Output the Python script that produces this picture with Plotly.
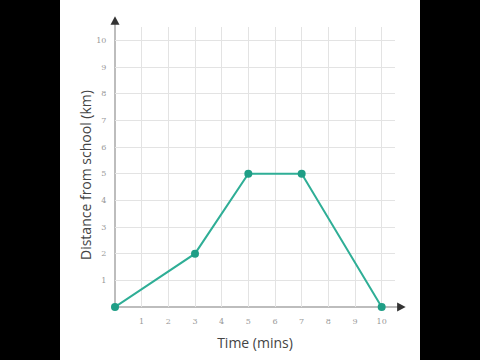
import plotly.graph_objects as go

time_mins = [0, 3, 5, 7, 10]
distance_km = [0, 2, 5, 5, 0]
tick_vals = [1, 2, 3, 4, 5, 6, 7, 8, 9, 10]
tick_text = [str(v) for v in tick_vals]

X_MAX = 10.5  # axis range upper bound
PW = 280.0    # plot width/height in px

fig = go.Figure()
fig.add_trace(go.Scatter(
    x=time_mins, y=distance_km, mode="lines+markers",
    line=dict(color="#2fae96", width=2),
    marker=dict(color="#1f9e86", size=8),
    cliponaxis=False, showlegend=False,
))

axis_common = dict(
    showgrid=True, gridcolor="#e3e3e3", gridwidth=1,
    zeroline=False, showline=False,
    tickvals=tick_vals, ticktext=tick_text,
    tickfont=dict(family="DejaVu Serif", size=8, color="#999999"),
    ticks="outside", ticklen=6, tickcolor="rgba(0,0,0,0)", fixedrange=True,
)
fig.update_xaxes(range=[0, X_MAX], title=dict(text="Time (mins)", standoff=13,
                 font=dict(family="Open Sans", size=14, color="#444")), **axis_common)
fig.update_yaxes(range=[0, X_MAX], **axis_common)

fig.add_annotation(text="Distance from school (km)", textangle=-90,
                   xref="paper", yref="paper", x=(85 - 115) / PW, y=(307 - 175) / PW,
                   xanchor="center", yanchor="middle", showarrow=False,
                   font=dict(family="Open Sans", size=14, color="#444"))

# black side bars
fig.add_shape(type="rect", xref="paper", yref="paper", x0=-115/PW, x1=-55/PW, y0=-53/PW, y1=307/PW,
              fillcolor="black", line_width=0, layer="below")
fig.add_shape(type="rect", xref="paper", yref="paper", x0=305/PW, x1=365/PW, y0=-53/PW, y1=307/PW,
              fillcolor="black", line_width=0, layer="below")

# axis lines (light gray)
end = 10.7 / X_MAX
fig.add_shape(type="line", xref="paper", yref="paper", x0=0, y0=0, x1=end, y1=0,
              line=dict(color="#bdbdbd", width=2), layer="below")
fig.add_shape(type="line", xref="paper", yref="paper", x0=0, y0=0, x1=0, y1=end,
              line=dict(color="#bdbdbd", width=2), layer="below")
# dark arrowheads
tip = 10.9 / X_MAX
base = 10.58 / X_MAX
hw = 4.5 / PW
fig.add_shape(type="path", xref="paper", yref="paper",
              path=f"M {base} {-hw} L {tip} 0 L {base} {hw} Z",
              fillcolor="#333", line_width=0, layer="above")
fig.add_shape(type="path", xref="paper", yref="paper",
              path=f"M {-hw} {base} L 0 {tip} L {hw} {base} Z",
              fillcolor="#333", line_width=0, layer="above")

fig.update_layout(
    width=480, height=360,
    margin=dict(l=115, r=85, t=27, b=53),
    paper_bgcolor="white", plot_bgcolor="rgba(0,0,0,0)",
)
fig.write_html("out.html")
